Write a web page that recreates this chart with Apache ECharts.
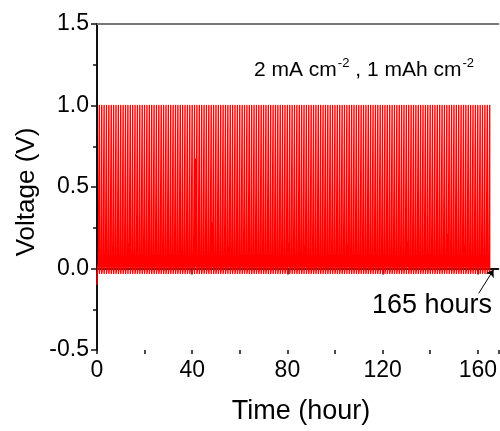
<!DOCTYPE html>
<html>
<head>
<meta charset="utf-8">
<script src="https://cdn.jsdelivr.net/npm/echarts@6/dist/echarts.min.js"></script>
<style>
  html, body { margin: 0; padding: 0; background: #fff; }
  #chart { width: 500px; height: 431px; }
</style>
</head>
<body>
<div id="chart"></div>
<script>
// Galvanostatic cycling: 2 mA cm-2, 1 mAh cm-2 per half cycle (1 h per cycle)
const FONT = "'Liberation Sans', Arial, sans-serif";

// Voltage at the very start of the test (t = 0 h)
const startVoltage = -0.1;
// Plating plateau and stripping plateau voltages (V)
const platingVoltage = -0.03;
const strippingVoltage = 0.01;

// Peak voltage reached at the end of each cycle (cut-off), cycles 1..165
const cyclePeaks = [
  1.0, 1.0, 1.0, 1.0, 1.0, 1.0, 1.0, 1.0, 1.0, 1.0, 1.0, 1.0, 1.0, 1.0, 1.0,
  1.0, 1.0, 1.0, 1.0, 1.0, 1.0, 1.0, 1.0, 1.0, 1.0, 1.0, 1.0, 1.0, 1.0, 1.0,
  1.0, 1.0, 1.0, 1.0, 1.0, 1.0, 1.0, 1.0, 1.0, 1.0, 1.0, 1.0, 1.0, 1.0, 1.0,
  1.0, 1.0, 1.0, 1.0, 1.0, 1.0, 1.0, 1.0, 1.0, 1.0, 1.0, 1.0, 1.0, 1.0, 1.0,
  1.0, 1.0, 1.0, 1.0, 1.0, 1.0, 1.0, 1.0, 1.0, 1.0, 1.0, 1.0, 1.0, 1.0, 1.0,
  1.0, 1.0, 1.0, 1.0, 1.0, 1.0, 1.0, 1.0, 1.0, 1.0, 1.0, 1.0, 1.0, 1.0, 1.0,
  1.0, 1.0, 1.0, 1.0, 1.0, 1.0, 1.0, 1.0, 1.0, 1.0, 1.0, 1.0, 1.0, 1.0, 1.0,
  1.0, 1.0, 1.0, 1.0, 1.0, 1.0, 1.0, 1.0, 1.0, 1.0, 1.0, 1.0, 1.0, 1.0, 1.0,
  1.0, 1.0, 1.0, 1.0, 1.0, 1.0, 1.0, 1.0, 1.0, 1.0, 1.0, 1.0, 1.0, 1.0, 1.0,
  1.0, 1.0, 1.0, 1.0, 1.0, 1.0, 1.0, 1.0, 1.0, 1.0, 1.0, 1.0, 1.0, 1.0, 1.0,
  1.0, 1.0, 1.0, 1.0, 1.0, 1.0, 1.0, 1.0, 1.0, 1.0, 1.0, 1.0, 1.0, 1.0, 1.0
];

// Overshoot voltage when each cycle switches from plating to stripping
const switchSpikes = [
  0.03, 0.04, 0.03, 0.09, 0.03, 0.05, 0.03, 0.04, 0.03, 0.03, 0.05, 0.03, 0.04, 0.15, 0.03,
  0.04, 0.03, 0.03, 0.05, 0.03, 0.04, 0.03, 0.03, 0.04, 0.05, 0.03, 0.03, 0.04, 0.03, 0.05,
  0.03, 0.04, 0.03, 0.03, 0.05, 0.03, 0.04, 0.03, 0.03, 0.04, 0.03, 0.67, 0.03, 0.04, 0.03,
  0.05, 0.03, 0.04, 0.28, 0.03, 0.03, 0.04, 0.03, 0.05, 0.03, 0.13, 0.03, 0.04, 0.03, 0.03,
  0.04, 0.03, 0.05, 0.03, 0.04, 0.03, 0.03, 0.05, 0.03, 0.04, 0.03, 0.03, 0.04, 0.03, 0.05,
  0.03, 0.04, 0.03, 0.05, 0.03, 0.15, 0.03, 0.04, 0.03, 0.03, 0.05, 0.03, 0.14, 0.03, 0.04,
  0.03, 0.03, 0.05, 0.03, 0.04, 0.03, 0.03, 0.04, 0.03, 0.05, 0.03, 0.04, 0.03, 0.03, 0.04,
  0.14, 0.03, 0.04, 0.03, 0.05, 0.03, 0.07, 0.03, 0.04, 0.03, 0.03, 0.05, 0.03, 0.04, 0.03,
  0.03, 0.04, 0.05, 0.03, 0.03, 0.04, 0.03, 0.05, 0.03, 0.04, 0.16, 0.03, 0.03, 0.04, 0.03,
  0.05, 0.03, 0.04, 0.03, 0.03, 0.04, 0.05, 0.03, 0.03, 0.04, 0.03, 0.03, 0.21, 0.04, 0.03,
  0.03, 0.05, 0.03, 0.04, 0.14, 0.03, 0.03, 0.04, 0.05, 0.03, 0.04, 0.03, 0.03, 0.05, 0.03
];

// Axis ticks
const xTicks = [0, 40, 80, 120, 160];
const xMinorStep = 20;
const xMax = 168.6;
const yTicks = [-0.5, 0.0, 0.5, 1.0, 1.5];

// Voltage–time profile: each cycle lasts one hour (plating half, stripping half),
// ending with a jump to the cut-off voltage
const profile = [[0, startVoltage]];
cyclePeaks.forEach((peak, i) => {
  const t0 = i;
  profile.push([t0 + 0.02, platingVoltage]);
  profile.push([t0 + 0.5, platingVoltage]);
  profile.push([t0 + 0.5, switchSpikes[i]]);
  profile.push([t0 + 0.56, strippingVoltage]);
  profile.push([t0 + 0.99, strippingVoltage]);
  profile.push([t0 + 0.99, peak]);
  profile.push([t0 + 0.99, platingVoltage]);
});

const chart = echarts.init(document.getElementById('chart'), null, { renderer: 'canvas' });

const tickStyle = { color: '#111', width: 1.5 };

chart.setOption({
  animation: false,
  backgroundColor: '#fff',
  grid: { left: 97, right: 0, top: 24, bottom: 81 },
  xAxis: [{
    type: 'value',
    min: xTicks[0],
    max: xMax,
    interval: xTicks[1] - xTicks[0],
    axisLine: { show: true, lineStyle: { color: '#111', width: 2 } },
    axisTick: { show: true, inside: false, length: 6, lineStyle: tickStyle },
    splitLine: { show: false },
    axisLabel: { color: '#000', fontSize: 23, fontFamily: FONT, margin: 9, showMaxLabel: false }
  }, {
    // minor ticks every 20 h along the bottom axis
    type: 'value',
    position: 'bottom',
    offset: 0,
    min: xTicks[0],
    max: xMax,
    interval: xMinorStep,
    axisLine: { show: false },
    axisTick: { show: true, inside: false, length: 4, lineStyle: tickStyle },
    axisLabel: { show: false },
    splitLine: { show: false }
  }, {
    // top frame line
    type: 'value',
    position: 'top',
    min: xTicks[0],
    max: xMax,
    axisLine: { show: true, lineStyle: { color: '#777', width: 2 } },
    axisTick: { show: false },
    axisLabel: { show: false },
    splitLine: { show: false }
  }],
  yAxis: {
    type: 'value',
    min: yTicks[0],
    max: yTicks[yTicks.length - 1],
    interval: yTicks[1] - yTicks[0],
    axisLine: { show: true, lineStyle: { color: '#111', width: 2 } },
    axisTick: { show: true, inside: false, length: 6, lineStyle: tickStyle },
    minorTick: { show: true, splitNumber: 2, length: 4, lineStyle: tickStyle },
    splitLine: { show: false },
    axisLabel: {
      color: '#000', fontSize: 23, fontFamily: FONT, margin: 8,
      formatter: v => v.toFixed(1)
    }
  },
  series: [{
    type: 'line',
    xAxisIndex: 0,
    data: profile,
    showSymbol: false,
    symbol: 'none',
    sampling: 'none',
    lineStyle: { color: '#ff0000', width: 1.4, join: 'round', cap: 'butt' },
    markLine: {
      silent: true,
      symbol: ['none', 'arrow'],
      symbolSize: 7,
      label: { show: false },
      lineStyle: { color: '#000', width: 1, type: 'solid' },
      data: [[{ coord: [160.4, -0.152] }, { coord: [166.6, -0.008] }]]
    }
  }],
  graphic: [
    {
      type: 'text', x: 27, y: 192, rotation: Math.PI / 2,
      style: { text: 'Voltage (V)', font: '26px ' + FONT, fill: '#000', textAlign: 'center', textVerticalAlign: 'middle' }
    },
    {
      type: 'text', x: 301, y: 412,
      style: { text: 'Time (hour)', font: '27px ' + FONT, fill: '#000', textAlign: 'center', textVerticalAlign: 'middle' }
    },
    {
      type: 'text', x: 432, y: 306,
      style: { text: '165 hours', font: '27px ' + FONT, fill: '#000', textAlign: 'center', textVerticalAlign: 'middle' }
    },
    {
      type: 'text', x: 254, y: 70,
      style: {
        text: '{n|2 mA cm}{s|-2}{n| , 1 mAh cm}{s|-2}',
        textVerticalAlign: 'middle',
        rich: {
          n: { fontSize: 21, fontFamily: FONT, fill: '#000', lineHeight: 24 },
          s: { fontSize: 13, fontFamily: FONT, fill: '#000', lineHeight: 24, padding: [0, 0, 13, 1] }
        }
      }
    }
  ]
});
</script>
</body>
</html>
